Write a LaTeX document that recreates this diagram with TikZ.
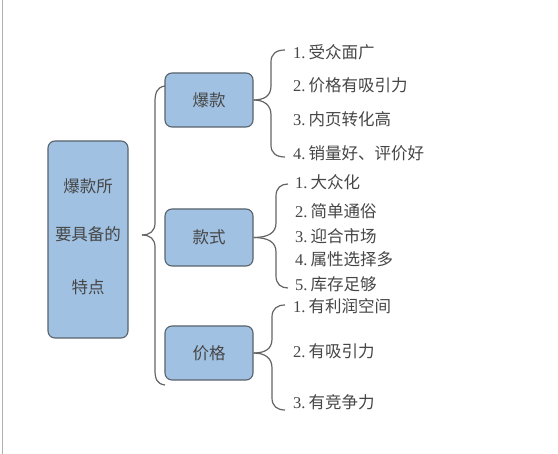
\documentclass[tikz,border=0pt]{standalone}
\usepackage{fontspec}
\setmainfont{Liberation Serif}
\newfontfamily\cjk{Noto Sans CJK SC}
\definecolor{boxfill}{RGB}{160,193,226}
\definecolor{boxline}{RGB}{88,98,108}
\definecolor{txtgray}{RGB}{70,70,70}
\definecolor{linegray}{RGB}{100,100,100}
\definecolor{edgegray}{RGB}{175,175,175}
\newcommand\itm[2]{{\rmfamily #1.}\hspace{3pt}#2}
\tikzset{
  box/.style={draw=boxline, fill=boxfill, rounded corners=7pt, line width=1.1pt},
  txt/.style={font=\fontsize{16.5pt}{19pt}\selectfont\cjk, text=txtgray, inner sep=0pt},
  item/.style={txt, anchor=west},
  brace/.style={draw=linegray, line width=1.2pt}
}
\begin{document}
\begin{tikzpicture}[x=1pt,y=-1pt]
\useasboundingbox[fill=white] (0,0) rectangle (558,454);
\draw[edgegray, line width=1pt] (2.5,0) -- (2.5,454);
% main box
\node[box, minimum width=80pt, minimum height=197pt] (main) at (88,239.5) {};
\node[txt] (m1) at (88,186) {爆款所};
\node[txt] (m2) at (88,234) {要具备的};
\node[txt] (m3) at (88,287) {特点};
% sub boxes
\node[box, minimum width=88pt, minimum height=54pt] (b1) at (209,100) {};
\node[txt] at (b1) {爆款};
\node[box, minimum width=88pt, minimum height=57pt] (b2) at (209,237.5) {};
\node[txt] at (b2) {款式};
\node[box, minimum width=88pt, minimum height=54pt] (b3) at (209,353) {};
\node[txt] at (b3) {价格};
% left brace
\coordinate (Lt) at (142,235);
\coordinate (Lu) at (165,86);
\coordinate (Ld) at (165,385);
\draw[brace] (Lu) .. controls (157,87) and (155,93) .. (155,102) -- (155,223) .. controls (155,231) and (150,235) .. (Lt);
\draw[brace] (Lt) .. controls (150,235) and (155,239) .. (155,247) -- (155,370) .. controls (155,379) and (157,384) .. (Ld);
% items 1
\node[item] (a1) at (293,52) {\itm{1}{受众面广}};
\node[item] (a2) at (293,85) {\itm{2}{价格有吸引力}};
\node[item] (a3) at (293,119) {\itm{3}{内页转化高}};
\node[item] (a4) at (293,153) {\itm{4}{销量好、评价好}};
\coordinate (r1u) at (285,50);
\coordinate (r1d) at (285,157);
\draw[brace] (b1.east) .. controls (264,100) and (271,96) .. (271,86) -- (271,62) .. controls (271,54) and (276,50) .. (r1u);
\draw[brace] (b1.east) .. controls (264,100) and (271,105) .. (271,115) -- (271,145) .. controls (271,153) and (276,157) .. (r1d);
% items 2
\node[item] (c1) at (295,182) {\itm{1}{大众化}};
\node[item] (c2) at (295,211) {\itm{2}{简单通俗}};
\node[item] (c3) at (295,236) {\itm{3}{迎合市场}};
\node[item] (c4) at (295,259) {\itm{4}{属性选择多}};
\node[item] (c5) at (295,284) {\itm{5}{库存足够}};
\coordinate (r2u) at (288,184);
\coordinate (r2d) at (288,288);
\draw[brace] (b2.east) .. controls (268,237.5) and (276,233) .. (276,223) -- (276,196) .. controls (276,188) and (281,184) .. (r2u);
\draw[brace] (b2.east) .. controls (268,237.5) and (276,242) .. (276,252) -- (276,276) .. controls (276,284) and (281,288) .. (r2d);
% items 3
\node[item] (p1) at (293,306) {\itm{1}{有利润空间}};
\node[item] (p2) at (293,351) {\itm{2}{有吸引力}};
\node[item] (p3) at (293,402) {\itm{3}{有竞争力}};
\coordinate (r3u) at (285,305);
\coordinate (r3d) at (285,410);
\draw[brace] (b3.east) .. controls (265,353) and (272,349) .. (272,339) -- (272,317) .. controls (272,309) and (277,305) .. (r3u);
\draw[brace] (b3.east) .. controls (265,353) and (272,358) .. (272,368) -- (272,398) .. controls (272,406) and (277,410) .. (r3d);
\end{tikzpicture}
\end{document}
